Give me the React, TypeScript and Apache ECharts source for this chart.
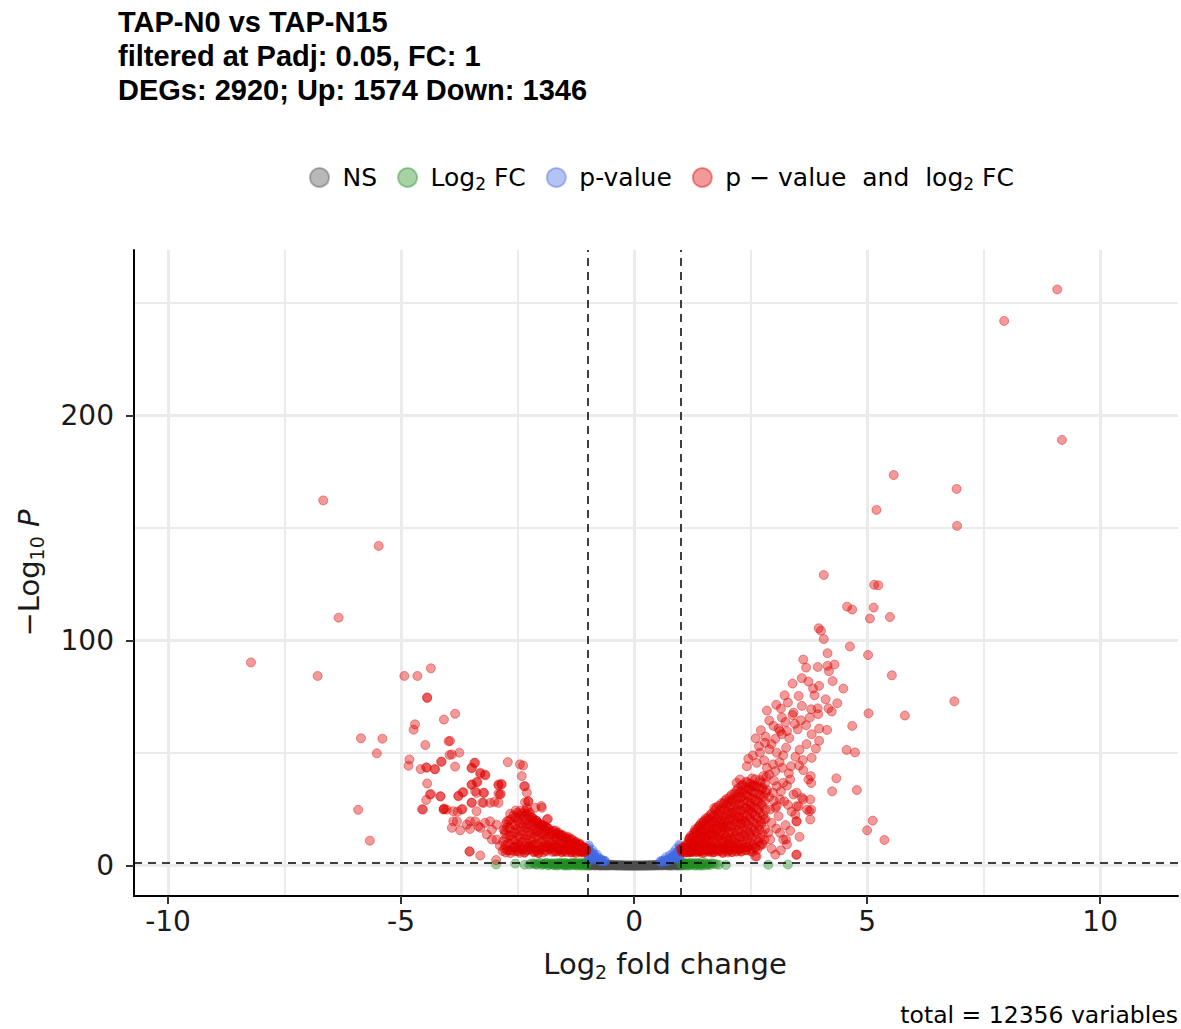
import React, { useEffect, useRef } from 'react';
import * as echarts from 'echarts';

const titleLines = ['TAP-N0 vs TAP-N15', 'filtered at Padj: 0.05, FC: 1', 'DEGs: 2920; Up: 1574 Down: 1346'];
const captionText = 'total = 12356 variables';
const seriesNames = ['NS', 'Log2 FC', 'p-value', 'p - value and log2 FC'];
const xMajorTicks = [-10, -5, 0, 5, 10];
const xMinorTicks = [-7.5, -2.5, 2.5, 7.5];
const yMajorTicks = [0, 100, 200];
const yMinorTicks = [50, 150, 250];
const fcCutoff = 1;
const pCutoffLog10 = 1.30103;

// grey: not significant
const nsPoints = [
  [-0.99, 0.2], [-0.98, 1.1], [-0.97, 0.4], [-0.95, 0.8], [-0.93, 0.1], [-0.91, 1.0], [-0.89, 0.5], [-0.86, 0.9],
  [-0.84, 0.2], [-0.82, 0.7], [-0.79, 0.4], [-0.77, 0.8], [-0.74, 0.1], [-0.72, 0.6], [-0.69, 0.3], [-0.66, 0.5],
  [-0.63, 0.1], [-0.6, 0.4], [-0.57, 0.2], [-0.54, 0.35], [-0.5, 0.1], [-0.47, 0.25], [-0.43, 0.05], [-0.39, 0.18],
  [-0.35, 0.08], [-0.31, 0.12], [-0.27, 0.03], [-0.23, 0.07], [-0.19, 0.02], [-0.15, 0.05], [-0.11, 0.01], [-0.07, 0.03],
  [-0.03, 0.0], [0.01, 0.02], [0.05, 0.0], [0.09, 0.04], [0.13, 0.01], [0.17, 0.06], [0.21, 0.02], [0.25, 0.09],
  [0.29, 0.04], [0.33, 0.13], [0.37, 0.06], [0.41, 0.19], [0.45, 0.08], [0.49, 0.27], [0.53, 0.12], [0.57, 0.36],
  [0.61, 0.15], [0.64, 0.48], [0.67, 0.2], [0.7, 0.6], [0.73, 0.28], [0.76, 0.75], [0.79, 0.1], [0.82, 0.88],
  [0.85, 0.4], [0.88, 1.0], [0.91, 0.15], [0.94, 1.1], [0.96, 0.5], [0.98, 0.05], [0.99, 1.2],
];
const nsPoints2 = [
  [-0.99, 0.7], [-0.97, 1.3], [-0.96, 0.0], [-0.94, 0.5], [-0.92, 1.2], [-0.9, 0.3], [-0.88, 0.8], [-0.87, 1.1],
  [-0.85, 0.0], [-0.83, 0.6], [-0.81, 1.0], [-0.8, 0.2], [-0.78, 0.9], [-0.76, 0.4], [-0.75, 0.0], [-0.73, 0.8],
  [-0.71, 0.2], [-0.7, 0.6], [-0.68, 0.0], [-0.67, 0.7], [-0.65, 0.3], [-0.62, 0.55], [-0.61, 0.0], [-0.59, 0.3],
  [-0.56, 0.45], [-0.55, 0.0], [-0.52, 0.2], [-0.49, 0.4], [-0.45, 0.15], [-0.41, 0.3], [-0.37, 0.0], [-0.33, 0.2],
  [-0.29, 0.1], [-0.25, 0.15], [-0.21, 0.0], [-0.17, 0.1], [-0.13, 0.0], [-0.09, 0.06], [-0.05, 0.02], [-0.01, 0.05],
  [0.03, 0.03], [0.07, 0.06], [0.11, 0.0], [0.15, 0.1], [0.19, 0.0], [0.23, 0.14], [0.27, 0.0], [0.31, 0.18],
  [0.35, 0.02], [0.39, 0.25], [0.43, 0.0], [0.47, 0.35], [0.51, 0.05], [0.55, 0.45], [0.59, 0.0], [0.62, 0.58],
  [0.66, 0.3], [0.68, 0.7], [0.71, 0.0], [0.72, 0.85], [0.74, 0.45], [0.77, 0.0], [0.78, 0.95], [0.8, 0.5],
  [0.83, 0.0], [0.84, 1.1], [0.86, 0.7], [0.89, 0.3], [0.9, 1.2], [0.92, 0.75], [0.93, 0.0], [0.95, 1.3],
  [0.97, 0.9], [0.99, 0.3],
];

// green: fold change only
const log2fcPoints = [
  [-1.02, 0.9], [-1.05, 0.3], [-1.08, 1.2], [-1.11, 0.6], [-1.14, 0.1], [-1.17, 1.0], [-1.2, 0.5], [-1.24, 1.2],
  [-1.27, 0.2], [-1.3, 0.8], [-1.34, 1.1], [-1.37, 0.4], [-1.41, 0.9], [-1.45, 0.1], [-1.48, 1.2], [-1.52, 0.6],
  [-1.56, 1.0], [-1.6, 0.3], [-1.64, 1.1], [-1.68, 0.7], [-1.72, 0.2], [-1.77, 1.0], [-1.82, 0.5], [-1.87, 1.2],
  [-1.92, 0.8], [-1.98, 0.3], [-2.05, 1.1], [-2.12, 0.6], [-2.2, 0.9], [-2.35, 0.4], [-2.55, 0.9], [-2.96, 0.5],
  [-1.03, 0.0], [-1.5, 0.0],
  [1.02, 0.8], [1.05, 0.2], [1.08, 1.1], [1.11, 0.5], [1.14, 0.9], [1.18, 0.1], [1.21, 1.2], [1.25, 0.6],
  [1.29, 1.0], [1.33, 0.3], [1.37, 0.8], [1.41, 1.1], [1.45, 0.4], [1.5, 0.9], [1.55, 0.2], [1.6, 0.7],
  [1.66, 1.0], [1.76, 0.6], [1.97, 0.3], [2.88, 0.4], [3.3, 0.5], [1.03, 0.0], [1.4, 0.0],
];
const log2fcPoints2 = [
  [-1.01, 0.5], [-1.04, 1.3], [-1.07, 0.7], [-1.1, 0.0], [-1.13, 1.1], [-1.16, 0.4], [-1.19, 0.9], [-1.22, 0.0],
  [-1.26, 0.7], [-1.29, 1.3], [-1.32, 0.3], [-1.36, 1.0], [-1.39, 0.0], [-1.43, 0.6], [-1.47, 1.1], [-1.5, 0.3],
  [-1.54, 0.8], [-1.58, 1.3], [-1.62, 0.5], [-1.66, 0.0], [-1.7, 1.1], [-1.75, 0.5], [-1.8, 0.9], [-1.85, 0.1],
  [-1.9, 1.0], [-1.95, 0.6], [-2.0, 1.2], [-2.08, 0.4], [-2.15, 1.0], [-2.25, 0.5],
  [1.01, 0.5], [1.04, 1.3], [1.07, 0.4], [1.1, 1.0], [1.13, 0.0], [1.16, 0.6], [1.2, 1.1], [1.23, 0.3],
  [1.27, 0.9], [1.31, 0.0], [1.35, 1.2], [1.39, 0.5], [1.43, 0.9], [1.47, 0.0], [1.52, 1.2], [1.57, 0.6],
  [1.63, 0.3], [1.7, 0.9], [1.82, 0.4],
];

// blue: p-value only
const pvaluePoints = [
  [-0.99, 5.0], [-0.98, 8.2], [-0.96, 6.5], [-0.95, 3.3], [-0.93, 4.8], [-0.9, 7.0], [-0.88, 2.6], [-0.87, 5.6],
  [-0.84, 3.9], [-0.8, 4.9], [-0.76, 3.5], [-0.72, 2.9], [-0.68, 2.4], [-0.62, 2.0],
  [0.56, 1.9], [0.6, 2.2], [0.65, 2.5], [0.69, 3.8], [0.73, 3.0], [0.77, 4.6], [0.8, 3.6], [0.84, 5.8],
  [0.87, 4.3], [0.9, 7.4], [0.93, 5.0], [0.95, 3.4], [0.96, 6.8], [0.98, 8.6], [0.99, 4.9],
];
const pvaluePoints2 = [
  [-0.99, 7.2], [-0.97, 9.0], [-0.97, 3.9], [-0.94, 6.0], [-0.92, 3.0], [-0.91, 5.2], [-0.89, 4.2], [-0.86, 3.1],
  [-0.85, 4.6], [-0.82, 3.3], [-0.78, 2.8], [-0.74, 2.5], [-0.7, 2.0], [-0.66, 1.9], [-0.64, 2.2],
  [0.99, 7.6], [0.97, 9.3], [0.97, 4.0], [0.94, 6.2], [0.92, 3.1], [0.91, 5.4], [0.89, 4.4], [0.86, 3.2],
  [0.85, 4.8], [0.82, 3.4], [0.79, 2.7], [0.75, 2.6], [0.71, 2.2], [0.67, 2.0], [0.63, 1.8], [0.58, 1.6],
];

// red, up-regulated: dense core
const upCore = [
  [1.03, 6.2], [1.05, 7.1], [1.02, 7.4], [1.06, 8.2], [1.08, 7.3], [1.04, 6.2], [1.01, 7.6],
  [1.14, 6.5], [1.16, 5.8], [1.13, 8.1], [1.17, 11.2], [1.19, 12.2], [1.12, 7.6], [1.15, 9.7],
  [1.24, 6.1], [1.26, 7.9], [1.23, 7.2], [1.27, 9.5], [1.25, 12.4], [1.28, 14.0], [1.29, 14.9], [1.22, 6.3],
  [1.34, 6.8], [1.36, 6.0], [1.33, 8.4], [1.37, 10.9], [1.35, 13.6], [1.38, 16.7], [1.39, 17.4], [1.32, 8.0], [1.36, 11.8],
  [1.44, 6.3], [1.46, 5.5], [1.43, 7.9], [1.47, 10.2], [1.45, 12.8], [1.48, 15.4], [1.46, 17.9], [1.49, 19.4], [1.42, 9.1], [1.44, 14.0],
  [1.54, 7.1], [1.56, 6.6], [1.53, 9.3], [1.57, 11.7], [1.55, 14.5], [1.58, 17.2], [1.56, 19.8], [1.59, 21.5], [1.52, 8.0], [1.55, 12.9],
  [1.64, 6.6], [1.66, 5.9], [1.63, 8.7], [1.67, 11.3], [1.65, 13.9], [1.68, 16.4], [1.66, 19.1], [1.69, 21.6], [1.67, 23.3], [1.62, 10.0], [1.64, 15.3],
  [1.74, 7.4], [1.76, 7.0], [1.73, 9.8], [1.77, 12.5], [1.75, 15.1], [1.78, 17.8], [1.76, 20.4], [1.79, 23.0], [1.77, 25.9], [1.72, 6.1], [1.74, 18.9],
  [1.84, 6.9], [1.86, 6.4], [1.83, 9.0], [1.87, 11.9], [1.85, 14.6], [1.88, 17.3], [1.86, 20.0], [1.89, 22.7], [1.87, 25.3], [1.88, 27.8], [1.82, 13.2],
  [1.94, 7.6], [1.96, 7.3], [1.93, 10.1], [1.97, 12.8], [1.95, 15.8], [1.98, 18.5], [1.96, 21.2], [1.99, 24.0], [1.97, 26.9], [1.98, 29.6], [1.92, 8.5], [1.94, 16.9],
  [2.04, 7.0], [2.06, 6.8], [2.03, 9.6], [2.07, 12.3], [2.05, 15.0], [2.08, 17.9], [2.06, 20.7], [2.09, 23.5], [2.07, 26.2], [2.08, 29.0], [2.09, 31.5], [2.02, 11.1],
  [2.14, 7.8], [2.16, 7.7], [2.13, 10.5], [2.17, 13.4], [2.15, 16.3], [2.18, 19.2], [2.16, 22.1], [2.19, 25.0], [2.17, 27.8], [2.18, 30.7], [2.19, 33.2],
  [2.24, 7.3], [2.26, 7.1], [2.23, 10.0], [2.27, 12.9], [2.25, 15.9], [2.28, 18.8], [2.26, 21.6], [2.29, 24.5], [2.27, 27.4], [2.28, 30.3], [2.29, 33.0], [2.3, 35.6],
  [2.34, 8.0], [2.36, 8.0], [2.33, 11.0], [2.37, 14.1], [2.35, 17.0], [2.38, 20.0], [2.36, 23.1], [2.39, 26.0], [2.37, 29.0], [2.38, 31.9], [2.39, 34.8], [2.4, 37.3],
  [2.44, 8.4], [2.46, 8.6], [2.43, 11.8], [2.47, 14.9], [2.45, 18.2], [2.48, 21.3], [2.46, 24.4], [2.49, 27.6], [2.47, 30.5], [2.48, 33.6], [2.5, 36.4],
  [2.54, 6.1], [2.56, 9.4], [2.53, 12.6], [2.57, 16.0], [2.55, 19.4], [2.58, 22.6], [2.56, 25.9], [2.59, 29.2], [2.57, 32.3], [2.58, 35.5], [2.6, 38.4],
  [2.64, 7.0], [2.66, 10.5], [2.63, 14.2], [2.67, 17.8], [2.65, 21.3], [2.68, 24.8], [2.66, 28.3], [2.69, 31.6], [2.67, 34.9], [2.7, 38.0],
  [2.74, 9.8], [2.76, 14.0], [2.73, 18.4], [2.77, 22.5], [2.75, 26.7], [2.78, 30.8], [2.76, 34.6],
  [1.1, 5.8], [1.2, 6.0], [1.3, 5.9], [1.4, 6.4], [1.5, 5.7], [1.6, 6.2], [1.7, 5.9], [1.8, 6.3], [1.9, 6.0], [2.0, 6.5],
  [2.1, 6.1], [2.2, 6.6], [2.3, 6.2], [2.4, 6.8], [2.5, 6.4], [1.2, 6.9], [1.4, 6.4], [1.6, 7.5], [1.8, 8.2], [2.0, 9.0],
  [2.2, 8.7], [1.3, 10.5], [1.5, 13.4], [1.7, 14.3], [1.9, 18.0], [2.1, 21.6], [2.3, 20.3], [2.5, 25.0],
];
const upCore2 = [
  [1.08, 6.9], [1.09, 5.9], [1.07, 8.0], [1.1, 9.0],
  [1.19, 6.4], [1.2, 6.1], [1.18, 8.6], [1.21, 10.8], [1.19, 12.2], [1.22, 13.3],
  [1.3, 6.7], [1.31, 6.6], [1.29, 8.9], [1.32, 11.3], [1.3, 13.9], [1.33, 15.6], [1.31, 16.2],
  [1.4, 6.5], [1.41, 7.0], [1.39, 9.4], [1.42, 11.9], [1.4, 14.6], [1.43, 16.3], [1.41, 18.0], [1.44, 19.0],
  [1.5, 6.8], [1.51, 7.4], [1.49, 10.0], [1.52, 12.4], [1.5, 15.9], [1.53, 18.2], [1.51, 20.1], [1.54, 21.0],
  [1.6, 6.9], [1.61, 7.8], [1.59, 10.6], [1.62, 13.6], [1.6, 16.0], [1.63, 18.6], [1.61, 20.7], [1.64, 22.6],
  [1.7, 7.2], [1.71, 8.2], [1.69, 10.9], [1.72, 13.8], [1.7, 16.6], [1.73, 19.6], [1.71, 22.4], [1.74, 24.8], [1.72, 25.6],
  [1.8, 7.1], [1.81, 8.0], [1.79, 10.7], [1.82, 13.5], [1.8, 16.2], [1.83, 18.9], [1.81, 21.5], [1.84, 24.2], [1.82, 26.6],
  [1.9, 5.6], [1.91, 8.3], [1.89, 11.1], [1.92, 14.0], [1.9, 16.9], [1.93, 19.6], [1.91, 22.1], [1.94, 25.0], [1.92, 27.6], [1.95, 28.8],
  [2.0, 5.8], [2.01, 8.7], [1.99, 11.6], [2.02, 14.4], [2.0, 17.2], [2.03, 20.0], [2.01, 22.8], [2.04, 25.6], [2.02, 28.2], [2.05, 30.4],
  [2.1, 6.0], [2.11, 9.0], [2.09, 11.9], [2.12, 14.8], [2.1, 17.7], [2.13, 20.5], [2.11, 23.6], [2.14, 26.5], [2.12, 29.4], [2.15, 32.0],
  [2.2, 6.2], [2.21, 9.2], [2.19, 12.1], [2.22, 15.1], [2.2, 18.0], [2.23, 21.0], [2.21, 23.8], [2.24, 26.8], [2.22, 29.6], [2.25, 32.2], [2.23, 34.4],
  [2.3, 6.4], [2.31, 9.5], [2.29, 12.5], [2.32, 15.5], [2.3, 18.6], [2.33, 21.5], [2.31, 24.6], [2.34, 27.6], [2.32, 30.6], [2.35, 33.5], [2.33, 36.0],
  [2.4, 6.8], [2.41, 9.9], [2.39, 13.0], [2.42, 16.1], [2.4, 19.2], [2.43, 22.3], [2.41, 25.4], [2.44, 28.4], [2.42, 31.3], [2.45, 34.2], [2.43, 37.0],
  [2.5, 7.3], [2.51, 10.4], [2.49, 13.6], [2.52, 16.9], [2.5, 20.1], [2.53, 23.4], [2.51, 26.5], [2.54, 29.8], [2.52, 32.9], [2.55, 35.8], [2.53, 38.8],
  [2.6, 8.2], [2.61, 11.6], [2.59, 15.1], [2.62, 18.6], [2.6, 22.0], [2.63, 25.4], [2.61, 28.8], [2.64, 32.0], [2.62, 35.2],
  [2.7, 8.8], [2.71, 12.3], [2.69, 16.0], [2.72, 19.7], [2.7, 23.5], [2.73, 27.3], [2.71, 31.0], [2.74, 34.0], [2.72, 37.0],
  [2.8, 11.5], [2.81, 16.2], [2.79, 20.6], [2.82, 24.8], [2.8, 28.6], [2.83, 32.6], [2.81, 36.5], [2.84, 39.5],
];

// red, up-regulated: spread and outliers
const upSpread = [
  [3.63, 91.6], [3.69, 88.0], [3.94, 88.3], [4.15, 88.8], [4.30, 89.4], [4.18, 86.4], [3.60, 83.3], [3.74, 81.8],
  [3.40, 80.9], [3.97, 79.9], [3.84, 78.7], [4.26, 82.0], [4.49, 78.7], [3.23, 75.7], [3.53, 75.4], [3.87, 75.7],
  [4.11, 73.9], [4.36, 72.2], [4.17, 69.9], [4.24, 68.5], [3.15, 69.8], [3.42, 68.0], [3.94, 69.9], [3.80, 69.5],
  [2.85, 68.9], [3.17, 65.8], [3.40, 66.9], [3.77, 65.8], [3.95, 67.3], [3.10, 60.9], [3.28, 59.8], [3.51, 60.6],
  [3.69, 62.4], [3.81, 58.4], [3.97, 60.9], [4.14, 60.3], [3.97, 55.5], [2.61, 56.6], [2.82, 57.3], [3.03, 56.4],
  [3.33, 56.7], [2.90, 51.7], [3.06, 50.2], [3.26, 52.4], [3.46, 48.4], [3.62, 46.9], [3.81, 47.9], [2.79, 46.8],
  [2.98, 45.0], [3.18, 43.5], [3.37, 44.2], [3.54, 44.5], [3.63, 42.4], [3.79, 39.8], [3.74, 38.3], [3.80, 36.7],
  [3.28, 35.6], [3.49, 32.4], [3.60, 30.2], [2.98, 32.4], [3.22, 28.6], [3.03, 25.7], [3.78, 29.4], [3.76, 24.2],
  [3.53, 26.4], [3.46, 22.7], [3.80, 24.9], [2.95, 19.0], [3.48, 19.7], [3.13, 14.6], [2.92, 11.6], [3.26, 11.6],
  [2.76, 9.4], [2.60, 7.9], [3.48, 4.8], [2.60, 4.1], [2.81, 54.6], [2.70, 50.2], [3.13, 59.8], [3.17, 58.4],
  [2.99, 62.1], [2.63, 45.7], [2.85, 43.5], [3.03, 42.0], [2.77, 39.8], [2.42, 44.2], [2.27, 38.3], [2.53, 35.3],
  [2.20, 36.8], [3.06, 35.3], [3.20, 36.8], [3.35, 38.3], [3.42, 31.6], [3.13, 29.4], [2.92, 24.9], [3.06, 26.4],
  [3.49, 26.4], [3.63, 29.4], [3.71, 24.9], [3.78, 20.5], [3.49, 19.7], [3.10, 22.0], [2.88, 14.6], [3.20, 11.6],
  [3.28, 9.4], [3.03, 4.9], [3.49, 4.9], [2.63, 4.1], [2.9, 30.5], [3.0, 37.8], [2.85, 33.6], [3.15, 33.0],
  [3.3, 27.0], [3.25, 18.0], [3.05, 16.5], [2.95, 7.5], [3.15, 6.8], [3.35, 15.5], [3.55, 12.8], [2.82, 20.8],
  [3.0, 28.8], [3.38, 24.0], [2.9, 40.5], [3.12, 46.0], [3.32, 41.0], [2.95, 54.0], [3.2, 49.0], [2.72, 60.2],
  [2.9, 64.5], [3.05, 71.5], [3.3, 72.5], [3.6, 71.0], [3.58, 64.6], [3.45, 63.0], [3.7, 54.0], [3.9, 52.0],
  [3.55, 51.5], [3.25, 63.8], [2.68, 53.0], [2.55, 49.0], [2.45, 47.5],
  [9.08, 256.1], [7.94, 242.1], [9.18, 189.2], [5.57, 173.6], [6.92, 167.4], [5.2, 158.1], [6.93, 151.0], [4.07, 129.2],
  [5.15, 124.8], [5.24, 124.6], [4.57, 115.1], [4.68, 113.8], [5.14, 114.7], [5.06, 109.8], [5.49, 110.5], [3.96, 105.5],
  [4.01, 104.4], [4.07, 100.7], [4.63, 97.4], [4.15, 94.4], [5.02, 93.6], [5.53, 84.6], [5.03, 67.7], [4.68, 62.1],
  [5.81, 66.7], [6.87, 73.0], [4.56, 51.4], [4.74, 50.3], [4.34, 38.8], [4.25, 33.0], [4.78, 33.6], [5.12, 20.0],
  [5.0, 15.7], [5.37, 11.4],
];

// red, down-regulated: dense core
const downCore = [
  [-2.82, 6.5], [-2.78, 7.6], [-2.81, 10.8], [-2.77, 14.2],
  [-2.72, 6.9], [-2.68, 6.8], [-2.71, 9.9], [-2.67, 13.3], [-2.73, 16.9], [-2.69, 20.1],
  [-2.62, 6.7], [-2.58, 8.1], [-2.61, 11.5], [-2.57, 15.0], [-2.63, 18.6], [-2.59, 22.4],
  [-2.52, 6.6], [-2.48, 6.4], [-2.51, 9.6], [-2.47, 12.9], [-2.53, 16.3], [-2.49, 19.8], [-2.5, 23.5],
  [-2.42, 7.2], [-2.38, 7.3], [-2.41, 10.5], [-2.37, 13.8], [-2.43, 17.2], [-2.39, 20.7], [-2.4, 23.3],
  [-2.32, 6.8], [-2.28, 6.9], [-2.31, 10.1], [-2.27, 13.5], [-2.33, 16.8], [-2.29, 20.3], [-2.3, 22.9], [-2.28, 24.2],
  [-2.22, 7.4], [-2.18, 7.7], [-2.21, 11.0], [-2.17, 14.4], [-2.23, 17.9], [-2.19, 21.4], [-2.2, 21.5],
  [-2.12, 6.5], [-2.08, 6.6], [-2.11, 9.8], [-2.07, 13.1], [-2.13, 16.5], [-2.09, 19.9], [-2.1, 20.0],
  [-2.02, 7.1], [-1.98, 7.2], [-2.01, 10.4], [-1.97, 13.7], [-2.03, 17.0], [-1.99, 18.4],
  [-1.92, 6.7], [-1.88, 6.5], [-1.91, 9.5], [-1.87, 12.6], [-1.93, 15.8], [-1.89, 17.0], [-1.9, 17.5],
  [-1.82, 7.3], [-1.78, 7.4], [-1.81, 10.6], [-1.77, 13.9], [-1.83, 16.4],
  [-1.72, 6.4], [-1.68, 6.2], [-1.71, 9.2], [-1.67, 12.3], [-1.73, 15.5], [-1.69, 15.6],
  [-1.62, 7.0], [-1.58, 7.0], [-1.61, 10.1], [-1.57, 13.2], [-1.63, 14.8],
  [-1.52, 6.6], [-1.48, 6.3], [-1.51, 9.3], [-1.47, 12.2], [-1.53, 13.6],
  [-1.42, 7.2], [-1.38, 7.1], [-1.41, 10.0], [-1.37, 12.2], [-1.43, 12.9],
  [-1.32, 6.5], [-1.28, 6.0], [-1.31, 8.8], [-1.27, 10.8], [-1.33, 11.6],
  [-1.22, 6.9], [-1.18, 6.7], [-1.21, 9.4], [-1.17, 9.8],
  [-1.12, 6.3], [-1.08, 5.8], [-1.11, 8.3], [-1.07, 8.0],
  [-1.03, 7.0], [-1.02, 6.5], [-1.04, 7.6],
  [-1.15, 5.8], [-1.35, 6.0], [-1.55, 5.9], [-1.75, 6.1], [-1.95, 5.8], [-2.15, 6.2], [-2.35, 6.0], [-2.55, 6.3],
  [-1.25, 8.2], [-1.45, 8.0], [-1.65, 8.4], [-1.85, 8.1], [-2.05, 5.6], [-2.25, 8.3], [-2.45, 5.7], [-1.3, 9.8],
  [-1.5, 11.0], [-1.7, 11.2], [-1.9, 14.0], [-2.1, 15.0], [-2.3, 18.0], [-2.5, 21.0], [-1.6, 13.8], [-2.0, 18.0], [-2.2, 9.0],
];
const downCore2 = [
  [-2.75, 5.8], [-2.76, 9.0], [-2.74, 12.3], [-2.77, 15.6], [-2.75, 18.4],
  [-2.65, 5.6], [-2.66, 9.8], [-2.64, 13.1], [-2.67, 16.6], [-2.65, 20.4], [-2.66, 23.0],
  [-2.55, 8.3], [-2.56, 8.3], [-2.54, 11.2], [-2.57, 14.6], [-2.55, 18.1], [-2.56, 21.6], [-2.54, 24.5],
  [-2.45, 8.0], [-2.46, 8.8], [-2.44, 12.0], [-2.47, 15.4], [-2.45, 18.8], [-2.46, 22.3], [-2.44, 24.4],
  [-2.35, 5.7], [-2.36, 8.6], [-2.34, 11.9], [-2.37, 15.2], [-2.35, 18.7], [-2.36, 22.1], [-2.34, 24.2],
  [-2.25, 8.2], [-2.26, 8.4], [-2.24, 11.6], [-2.27, 15.0], [-2.25, 18.5], [-2.26, 21.9], [-2.24, 23.4],
  [-2.15, 5.9], [-2.16, 9.1], [-2.14, 12.4], [-2.17, 15.7], [-2.15, 19.0], [-2.16, 19.8], [-2.14, 20.5],
  [-2.05, 5.6], [-2.06, 8.7], [-2.04, 11.9], [-2.07, 15.3], [-2.05, 18.7], [-2.06, 18.8],
  [-1.95, 8.4], [-1.96, 8.4], [-1.94, 11.3], [-1.97, 14.6], [-1.95, 17.8], [-1.96, 17.6],
  [-1.85, 8.3], [-1.86, 8.8], [-1.84, 12.0], [-1.87, 15.2], [-1.85, 16.6],
  [-1.75, 8.0], [-1.76, 8.1], [-1.74, 11.0], [-1.77, 14.2], [-1.75, 15.2],
  [-1.65, 6.3], [-1.66, 7.8], [-1.64, 10.9], [-1.67, 14.0], [-1.65, 14.3],
  [-1.55, 6.1], [-1.56, 7.6], [-1.54, 10.5], [-1.57, 13.4], [-1.55, 13.4],
  [-1.45, 6.0], [-1.46, 7.3], [-1.44, 10.1], [-1.47, 12.0], [-1.45, 12.4],
  [-1.35, 5.8], [-1.36, 7.0], [-1.34, 9.6], [-1.37, 11.3],
  [-1.25, 5.6], [-1.26, 6.6], [-1.24, 9.0], [-1.27, 10.0], [-1.25, 10.4],
  [-1.15, 6.4], [-1.16, 6.3], [-1.14, 8.7], [-1.17, 9.0], [-1.15, 9.4],
  [-1.05, 6.1], [-1.06, 6.8], [-1.04, 7.6], [-1.07, 7.8],
];

// red, down-regulated: spread and outliers
const downSpread = [
  [-3.95, 55.4], [-3.91, 49.4], [-3.75, 50.2], [-4.45, 43.5], [-4.27, 42.8], [-4.13, 46.2], [-3.84, 44.0], [-3.43, 45.7],
  [-3.48, 43.5], [-3.30, 41.3], [-3.20, 40.5], [-2.71, 46.0], [-2.45, 45.0], [-2.38, 44.5], [-4.44, 36.5], [-4.16, 30.8],
  [-4.38, 31.6], [-4.53, 24.9], [-3.48, 36.1], [-3.38, 37.1], [-3.41, 33.1], [-3.23, 32.4], [-3.66, 32.6], [-3.77, 30.8],
  [-2.91, 36.1], [-2.84, 36.1], [-2.88, 31.6], [-2.91, 27.9], [-3.09, 27.9], [-3.23, 27.9], [-2.41, 39.8], [-2.36, 35.3],
  [-2.30, 32.4], [-2.27, 28.6], [-2.34, 28.2], [-4.09, 24.9], [-4.02, 24.9], [-3.88, 24.2], [-3.70, 24.9], [-3.48, 27.9],
  [-3.38, 24.2], [-3.88, 19.7], [-3.80, 19.7], [-3.59, 18.2], [-3.52, 19.7], [-3.41, 19.7], [-3.34, 17.5], [-3.20, 19.0],
  [-3.09, 19.7], [-3.05, 16.0], [-2.95, 18.2], [-2.80, 16.0], [-2.73, 19.7], [-3.91, 16.8], [-3.73, 15.7], [-3.52, 16.3],
  [-3.30, 16.8], [-3.16, 13.8], [-3.05, 11.6], [-2.95, 11.6], [-2.88, 8.9], [-3.53, 6.4], [-3.30, 4.5], [-1.98, 25.7],
  [-2.12, 25.7], [-1.87, 20.5], [-2.30, 25.7], [-1.85, 20.8],
  [-6.67, 162.3], [-5.48, 142.1], [-6.34, 110.2], [-8.22, 90.3], [-6.79, 84.3], [-4.93, 84.3], [-4.65, 84.3], [-4.36, 87.7],
  [-4.44, 74.5], [-4.44, 74.8], [-4.08, 64.9], [-3.84, 67.5], [-4.70, 62.8], [-4.73, 60.4], [-5.86, 56.6], [-5.40, 56.4],
  [-5.52, 49.9], [-4.48, 53.6], [-4.82, 47.2], [-4.84, 44.4], [-4.58, 42.9], [-4.46, 43.7], [-4.28, 42.9], [-4.14, 46.2],
  [-4.36, 31.8], [-4.46, 29.2], [-4.15, 30.8], [-4.55, 25.1], [-4.08, 25.1], [-4.08, 25.4], [-5.92, 24.8], [-5.67, 11.1],
  [-3.98, 55.3], [-3.96, 49.2], [-3.49, 43.3], [-3.41, 45.7], [-3.30, 40.8], [-3.19, 40.1], [-3.49, 35.9], [-3.36, 37.2],
  [-2.91, 35.7], [-2.85, 36.3], [-2.34, 35.3], [-3.77, 31.1], [-3.68, 32.6], [-3.38, 32.3], [-3.22, 32.3], [-2.91, 32.0],
  [-2.86, 31.9], [-3.79, 24.0], [-3.68, 25.2], [-3.49, 28.0], [-3.26, 28.0], [-3.0, 28.3], [-2.27, 28.5], [-1.99, 26.5],
  [-3.53, 6.2], [-2.96, 2.5],
];

const FONT = "'DejaVu Sans', sans-serif";
const xMin = -10.73;
const xMax = 11.67;
const yMin = -13.5;
const yMax = 273.6;

const legendLabels: Record<string, string> = {
  'NS': '{n|NS}',
  'Log2 FC': '{n|Log}{s|2}{n| FC}',
  'p-value': '{n|p-value}',
  'p - value and log2 FC': '{n|p \u2212 value  and  log}{s|2}{n| FC}',
};

function pointStyle(rgb: string) {
  return { color: `rgba(${rgb},0.5)`, borderColor: `rgba(${rgb},0.5)`, borderWidth: 1 };
}

export default function App() {
  const ref = useRef<HTMLDivElement>(null);
  useEffect(() => {
    if (!ref.current) return;
    const chart = echarts.init(ref.current, null, { renderer: 'svg' });
    const symbolSize = 9;
    const option: any = {
      animation: false,
      backgroundColor: '#ffffff',
      title: [
        {
          text: titleLines.join('\n'),
          left: 113,
          top: 0,
          textStyle: { fontFamily: "'Liberation Sans', Arial, sans-serif", fontWeight: 'bold', fontSize: 29, lineHeight: 34, color: '#000' },
        },
        {
          text: captionText,
          right: -2,
          top: 998,
          textStyle: { fontFamily: FONT, fontWeight: 'normal', fontSize: 23.5, color: '#000' },
        },
      ],
      legend: {
        left: 304,
        top: 158,
        icon: 'circle',
        itemWidth: 36,
        itemHeight: 19,
        itemGap: 20,
        selectedMode: false,
        data: seriesNames,
        formatter: (name: string) => legendLabels[name] || name,
        textStyle: {
          fontFamily: FONT,
          fontSize: 25,
          color: '#000',
          rich: {
            n: { fontFamily: FONT, fontSize: 25, lineHeight: 30, color: '#000' },
            s: { fontFamily: FONT, fontSize: 17, lineHeight: 17, padding: [12, 0, 0, 0], color: '#000' },
          },
        },
      },
      grid: { left: 134, top: 250, width: 1044, height: 646, containLabel: false },
      xAxis: [
        {
          type: 'value',
          min: xMin,
          max: xMax,
          position: 'bottom',
          axisLine: { show: true, onZero: false, lineStyle: { color: '#000', width: 2 } },
          axisTick: { show: true, customValues: xMajorTicks, length: 8, lineStyle: { color: '#333', width: 2 } },
          axisLabel: { show: true, customValues: xMajorTicks, fontFamily: FONT, fontSize: 28, color: '#1a1a1a', margin: 11 },
          splitLine: { show: true, lineStyle: { color: '#ebebeb', width: 3 } },
          name: '{n|Log}{s|2}{n| fold change}',
          nameLocation: 'middle',
          nameGap: 51,
          nameTextStyle: {
            fontFamily: FONT,
            fontSize: 28,
            color: '#1a1a1a',
            padding: [0, 0, 0, 18],
            rich: {
              n: { fontFamily: FONT, fontSize: 29, lineHeight: 34, color: '#1a1a1a' },
              s: { fontFamily: FONT, fontSize: 19, lineHeight: 19, padding: [15, 0, 0, 0], color: '#1a1a1a' },
            },
          },
        },
        {
          type: 'value',
          min: xMin,
          max: xMax,
          position: 'top',
          axisLine: { show: false },
          axisTick: { show: false, customValues: xMinorTicks },
          axisLabel: { show: false, customValues: xMinorTicks },
          splitLine: { show: true, lineStyle: { color: '#ebebeb', width: 2 } },
        },
      ],
      yAxis: [
        {
          type: 'value',
          min: yMin,
          max: yMax,
          position: 'left',
          axisLine: { show: true, onZero: false, lineStyle: { color: '#000', width: 2 } },
          axisTick: { show: true, customValues: yMajorTicks, length: 8, lineStyle: { color: '#333', width: 2 } },
          axisLabel: { show: true, customValues: yMajorTicks, fontFamily: FONT, fontSize: 28, color: '#1a1a1a', margin: 20 },
          splitLine: { show: true, lineStyle: { color: '#ebebeb', width: 3 } },
          name: '{n|\u2212Log}{s|10}{n| }{i|P}',
          nameLocation: 'middle',
          nameGap: 88,
          nameTextStyle: {
            fontFamily: FONT,
            fontSize: 29,
            color: '#1a1a1a',
            rich: {
              n: { fontFamily: FONT, fontSize: 29, lineHeight: 34, color: '#1a1a1a' },
              s: { fontFamily: FONT, fontSize: 19, lineHeight: 19, padding: [15, 0, 0, 0], color: '#1a1a1a' },
              i: { fontFamily: FONT, fontSize: 29, lineHeight: 34, fontStyle: 'italic', color: '#1a1a1a' },
            },
          },
        },
        {
          type: 'value',
          min: yMin,
          max: yMax,
          position: 'right',
          axisLine: { show: false },
          axisTick: { show: false, customValues: yMinorTicks },
          axisLabel: { show: false, customValues: yMinorTicks },
          splitLine: { show: true, lineStyle: { color: '#ebebeb', width: 2 } },
        },
      ],
      series: [
        {
          name: seriesNames[0], type: 'scatter', xAxisIndex: 0, yAxisIndex: 0, silent: true,
          symbolSize, data: [...nsPoints, ...nsPoints2], itemStyle: pointStyle('77,77,77'),
        },
        {
          name: seriesNames[1], type: 'scatter', xAxisIndex: 0, yAxisIndex: 0, silent: true,
          symbolSize, data: [...log2fcPoints, ...log2fcPoints2], itemStyle: pointStyle('34,139,34'),
        },
        {
          name: seriesNames[2], type: 'scatter', xAxisIndex: 0, yAxisIndex: 0, silent: true,
          symbolSize, data: [...pvaluePoints, ...pvaluePoints2], itemStyle: pointStyle('65,105,225'),
        },
        {
          name: seriesNames[3], type: 'scatter', xAxisIndex: 0, yAxisIndex: 0, silent: true,
          symbolSize,
          data: [...upCore, ...upCore2, ...downCore, ...downCore2, ...upSpread, ...downSpread],
          itemStyle: pointStyle('222,0,0'),
          markLine: {
            silent: true,
            symbol: ['none', 'none'],
            label: { show: false },
            lineStyle: { color: '#000', width: 1.5, type: [8, 6] },
            data: [{ xAxis: -fcCutoff }, { xAxis: fcCutoff }, { yAxis: pCutoffLog10 }],
          },
        },
      ],
    };
    chart.setOption(option);
    return () => chart.dispose();
  }, []);
  return (
    <div
      ref={ref}
      style={{ position: 'absolute', left: 0, top: 0, width: 1181, height: 1029, background: '#fff' }}
    />
  );
}
